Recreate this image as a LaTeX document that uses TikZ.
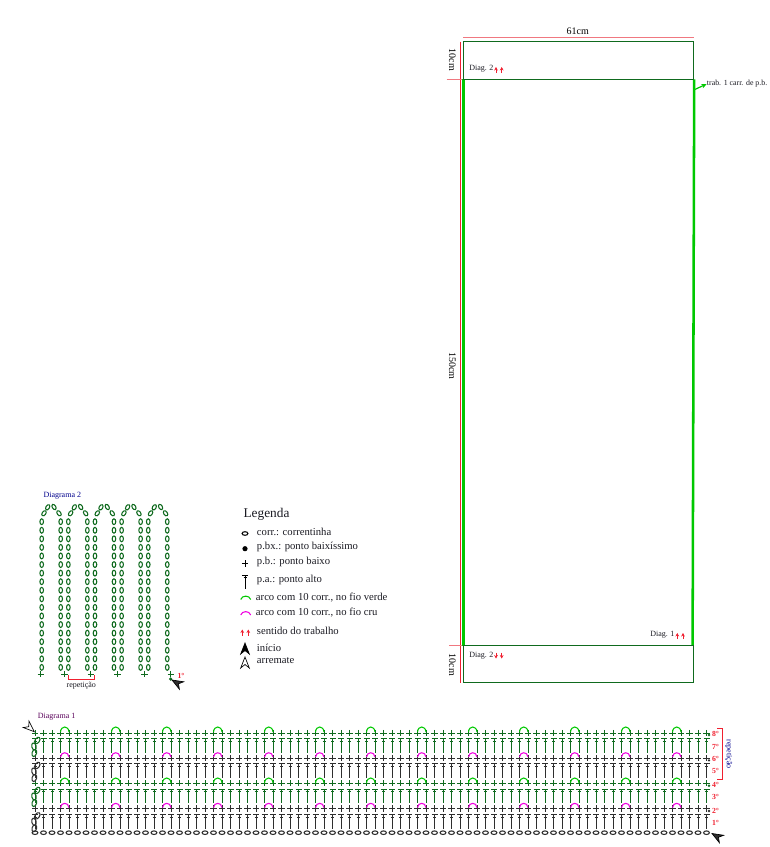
\documentclass[tikz,border=0pt]{standalone}
\usepackage{fontspec}
\setmainfont{Liberation Serif}
\usetikzlibrary{arrows.meta}
\definecolor{verdeesc}{HTML}{0F6A1E}
\definecolor{verdevivo}{HTML}{00C800}
\definecolor{fiocru}{HTML}{2E2E2E}
\definecolor{magenta2}{HTML}{F000E0}
\definecolor{vermelho}{HTML}{F02030}
\definecolor{salmao}{HTML}{F07880}
\definecolor{texto}{HTML}{1A1A22}
\tikzset{
    rotulo/.style={inner sep=0pt,text=texto,font=\fontsize{6}{7}\selectfont},
    legenda/.style={inner sep=0pt,anchor=west,text=texto,font=\fontsize{8}{9}\selectfont},
    ordem/.style={inner sep=0pt,text=vermelho,font=\fontsize{5.8}{6}\selectfont\bfseries},
    medida/.style={inner sep=0pt,text=black,font=\fontsize{7.5}{8}\selectfont},
    sentido/.style={vermelho,line width=0.7pt,-{Stealth[length=2.6pt,width=2.8pt]}}
}
% corr. deitada, p.b., p.a. e ponta de seta
\newcommand{\corr}[4]{\draw[line width=0.8pt,shift={(#1,#2)},rotate=#4,#3] (0,0) ellipse (2.9 and 1.8);}
\newcommand{\pbaixo}[3]{\draw[#3,line width=0.7pt] (#1-3.2,#2) -- (#1+3.2,#2) (#1,#2-3.2) -- (#1,#2+3.2);}
\newcommand{\palto}[3]{\draw[#3,line width=0.75pt] (#1-3,#2) -- (#1+3,#2) (#1,#2) -- (#1,#2+14) (#1-1.5,#2+2.6) -- (#1+1.5,#2+2.6);}
\newcommand{\ponta}[4]{\draw[black,fill=#3,line width=0.5pt,shift={(#1,#2)},rotate=#4] (0,0) -- (4.3,11) -- (0,7.5) -- (-4.3,11) -- cycle;}

\begin{document}
\begin{tikzpicture}[x=0.75pt,y=-0.75pt]
    \useasboundingbox (0,0) rectangle (770,847);

    % molde
    \draw[salmao,line width=1.1pt] (463,37.7) -- (693.5,37.7);
    \draw[vermelho,line width=0.7pt] (460.7,41.7) -- (460.7,682.7);
    \draw[salmao,line width=1pt] (446.7,79.3) -- (463,79.3);
    \draw[salmao,line width=1pt] (449,645.7) -- (463,645.7);
    \draw[verdeesc,line width=1pt] (463.3,41.7) rectangle (693.5,79.3);
    \draw[verdeesc,line width=1pt] (463.3,645.7) rectangle (693.5,682.7);
    \draw[verdevivo,line width=2.2pt] (463.3,79.3) -- (463.3,645.7);
    \draw[verdevivo,line width=1.9pt] (694.2,79.3) -- (692.6,645.7);
    \draw[verdeesc,line width=1pt] (463.3,79.3) -- (693.5,79.3);
    \draw[verdeesc,line width=1pt] (463.3,645.7) -- (693.5,645.7);
    \node[medida] (larg) at (577.7,31) {61cm};
    \node[medida,rotate=-90] (alt1) at (452.3,60) {10cm};
    \node[medida,rotate=-90] (alt2) at (452.3,366) {150cm};
    \node[medida,rotate=-90] (alt3) at (452.3,665) {10cm};
    \node[rotulo,anchor=west] (diag2a) at (469,68.3) {Diag. 2};
    \node[rotulo,anchor=west] (diag2b) at (469,655.7) {Diag. 2};
    \node[rotulo,anchor=west] (diag1) at (650,635) {Diag. 1};
    \node[rotulo,anchor=west,font=\fontsize{5.9}{6}\selectfont] (trab) at (706.7,84) {trab. 1 carr. de p.b.};
    \coordinate (trabini) at (693.7,90);
    \draw[verdevivo,line width=0.9pt,-{Stealth[length=4pt,width=3.5pt]}] (trabini) -- (trab.west);
    \foreach \x in {496,501.7} {
        \draw[sentido] (\x,73) -- (\x,67);
        \draw[sentido] (\x,652.5) -- (\x,658.5);
    }
    \foreach \x in {677.3,683} {
        \draw[sentido] (\x,639) -- (\x,633);
    }

    % legenda
    \node[inner sep=0pt,anchor=west,text=texto,font=\fontsize{10}{11}\selectfont] (leg) at (243.3,514.5) {Legenda};
    \node[legenda] (leg1) at (256.7,531.5) {corr.: correntinha};
    \node[legenda] (leg2) at (256.7,546.5) {p.bx.: ponto baixíssimo};
    \node[legenda] (leg3) at (256.7,561.5) {p.b.: ponto baixo};
    \node[legenda] (leg4) at (256.7,579.5) {p.a.: ponto alto};
    \node[legenda] (leg5) at (255.7,597.5) {arco com 10 corr., no fio verde};
    \node[legenda] (leg6) at (255.7,613) {arco com 10 corr., no fio cru};
    \node[legenda] (leg7) at (256.7,631) {sentido do trabalho};
    \node[legenda] (leg8) at (256.7,648) {início};
    \node[legenda] (leg9) at (256.7,661) {arremate};
    \corr{245}{533.5}{black}{0}
    \fill[black] (245,548.7) circle (2.6);
    \pbaixo{245}{563.3}{black}
    \palto{245}{575}{black}
    \draw[verdevivo,line width=0.8pt] (240.7,599.5) .. controls (242,595) and (249.5,595) .. (250.7,599.5);
    \draw[magenta2,line width=0.8pt] (240.7,615) .. controls (242,610.5) and (249.5,610.5) .. (250.7,615);
    \foreach \x in {242.3,248.3} {
        \draw[sentido] (\x,635.5) -- (\x,629.5);
    }
    \ponta{245}{643}{black}{0}
    \ponta{245}{657}{white}{0}

    % diagrama 2
    \node[rotulo,text=blue!55!black] (dg2) at (62.3,496) {Diagrama 2};
    \foreach \k in {0,...,4} {
        \pgfmathsetmacro{\xa}{41.7+26.64*\k}
        \pgfmathsetmacro{\xb}{\xa+19}
        \foreach \n in {0,...,17} {
            \pgfmathsetmacro{\yn}{521.7+8.57*\n}
            \corr{\xa}{\yn}{verdeesc}{90}
            \corr{\xb}{\yn}{verdeesc}{90}
        }
        \corr{\xa+2.3}{513.3}{verdeesc}{55}
        \corr{\xa+6}{507.3}{verdeesc}{60}
        \corr{\xa+12.3}{507}{verdeesc}{-60}
        \corr{\xa+17.3}{513.3}{verdeesc}{-55}
    }
    \foreach \x in {40.7,64.3,90.7,117.3,144.3,170.7} {
        \pbaixo{\x}{674}{verdeesc}
    }
    \fill[verdeesc] (170.7,679) circle (1.8);
    \ponta{172}{680}{fiocru}{60}
    \node[ordem] (dg2um) at (181,675.7) {1°};
    \draw[vermelho,line width=0.7pt] (68.3,675) -- (68.3,679) -- (94,679) -- (94,675);
    \node[rotulo] (dg2rep) at (81.3,685.3) {repetição};

    % diagrama 1
    \node[rotulo,text=violet!70!black] (dg1) at (56.7,716.5) {Diagrama 1};
    \foreach \n in {0,...,79} {
        \pgfmathsetmacro{\xn}{35+8.5*\n}
        \pbaixo{\xn}{733}{verdeesc}
        \palto{\xn}{738.5}{verdeesc}
        \pbaixo{\xn}{758}{fiocru}
        \palto{\xn}{763.5}{fiocru}
        \pbaixo{\xn}{783}{verdeesc}
        \palto{\xn}{789}{verdeesc}
        \pbaixo{\xn}{808.3}{fiocru}
        \palto{\xn}{814.5}{fiocru}
        \corr{\xn}{832.7}{fiocru}{0}
    }
    \foreach \k in {0,...,12} {
        \pgfmathsetmacro{\xa}{60.5+51*\k}
        \pgfmathsetmacro{\xb}{\xa+8.5}
        \draw[verdevivo,line width=0.8pt] (\xa,732) .. controls (\xa+0.5,725.3) and (\xb-0.5,725.3) .. (\xb,732);
        \draw[verdevivo,line width=0.8pt] (\xa,783) .. controls (\xa+0.5,776.3) and (\xb-0.5,776.3) .. (\xb,783);
        \draw[magenta2,line width=0.8pt] (\xa,757) .. controls (\xa+0.5,751.3) and (\xb-0.5,751.3) .. (\xb,757);
        \draw[magenta2,line width=0.8pt] (\xa,807.6) .. controls (\xa+0.5,801.9) and (\xb-0.5,801.9) .. (\xb,807.6);
    }
    % correntinhas da volta
    \foreach \r/\c in {733/verdeesc,758/fiocru,783/verdeesc,808.3/fiocru} {
        \corr{37.3}{\r+7.5}{\c,scale=1.25}{55}
        \corr{34}{\r+13.5}{\c,scale=1.25}{105}
        \corr{34.3}{\r+20}{\c,scale=1.25}{75}
    }
    \foreach \r/\c in {735/verdeesc,760.3/fiocru,785.7/verdeesc,811/fiocru} {
        \fill[\c] (709,\r) circle (1.3);
    }
    \node[ordem] (o8) at (715.5,734) {8°};
    \node[ordem] (o7) at (715.5,747) {7°};
    \node[ordem] (o6) at (715.5,759) {6°};
    \node[ordem] (o5) at (715.5,771) {5°};
    \node[ordem] (o4) at (715.5,785) {4°};
    \node[ordem] (o3) at (715.5,797) {3°};
    \node[ordem] (o2) at (715.5,810.5) {2°};
    \node[ordem] (o1) at (715.5,823) {1°};
    \draw[vermelho,line width=0.7pt] (717.3,728.3) -- (722.7,728.3) -- (722.7,779.3) -- (717.3,779.3);
    \node[rotulo,rotate=-90,text=blue!55!black] (dg1rep) at (728.7,754) {repetição};
    \ponta{34.3}{731.7}{white}{228}
    \ponta{712}{833.5}{fiocru}{60}
\end{tikzpicture}
\end{document}
